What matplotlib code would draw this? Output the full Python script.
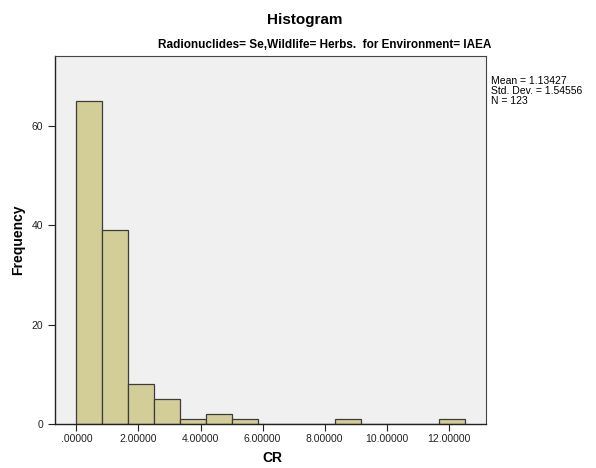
import numpy as np
import matplotlib
matplotlib.use("Agg")
import matplotlib.pyplot as plt

plt.rcParams['font.family'] = ['Liberation Sans', 'DejaVu Sans']

# histogram bins (bin width about 0.835)
bin_width = 0.835
counts = [65, 39, 8, 5, 1, 2, 1, 0, 0, 0, 1, 0, 0, 0, 1]
xticks = [0, 2, 4, 6, 8, 10, 12]
xticklabels = ['.00000', '2.00000', '4.00000', '6.00000', '8.00000', '10.00000', '12.00000']
yticks = [0, 20, 40, 60]
stats_text = "Mean = 1.13427\nStd. Dev. = 1.54556\nN = 123"

fig = plt.figure(figsize=(5.96, 4.68), dpi=100)
ax = fig.add_axes([0.0923, 0.094, 0.723, 0.786])
ax.set_facecolor('#f0f0f0')

lefts = np.arange(len(counts)) * bin_width
ax.bar(lefts, counts, width=bin_width, align='edge', color='#d3ce97',
       edgecolor='#3c3c3c', linewidth=0.9)

ax.set_xlim(-0.69, 13.2)
ax.set_ylim(0, 74)
ax.set_xticks(xticks)
ax.set_xticklabels(xticklabels)
ax.set_yticks(yticks)
ax.tick_params(labelsize=7.5, colors='#222222', length=5, width=0.8)
ax.tick_params(axis='x', pad=2)
for s in ['top', 'right']:
    ax.spines[s].set_color('#444444')
    ax.spines[s].set_linewidth(0.8)
for s in ['left', 'bottom']:
    ax.spines[s].set_color('#222222')
    ax.spines[s].set_linewidth(1.0)

# axis titles placed by hand like the SPSS layout
fig.text(0.457, 0.021, 'CR', ha='center', va='center', fontsize=10, fontweight='bold')
fig.text(0.030, 0.487, 'Frequency', ha='center', va='center', rotation=90,
         fontsize=10, fontweight='bold')

fig.text(0.512, 0.957, 'Histogram', ha='center', va='center', fontsize=11, fontweight='bold')
fig.text(0.545, 0.903, 'Radionuclides= Se,Wildlife= Herbs.  for Environment= IAEA',
         ha='center', va='center', fontsize=8.5, fontweight='bold')
fig.text(0.824, 0.838, stats_text, ha='left', va='top', fontsize=7.5, linespacing=1.0)

fig.savefig('out.png', dpi=100)
